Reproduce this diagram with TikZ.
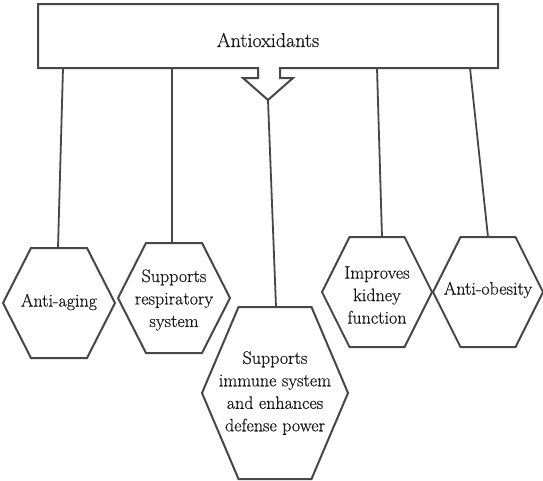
\documentclass[tikz,border=0pt]{standalone}
\usepackage{fontspec}
\setmainfont{Latin Modern Roman}[FakeBold=0.5]
\usepackage{tikz}
\tikzset{
  outline/.style={draw=black!72, line width=2pt, line join=miter},
  conn/.style={draw=black!72, line width=1.8pt},
  hextext/.style={align=center, text=black!90, inner sep=0pt, font=\fontsize{18}{22.5}\selectfont},
  titletext/.style={text=black!90, inner sep=0pt, font=\fontsize{20}{24}\selectfont}
}
\newcommand{\hexshape}[4]{%
  \draw[outline] ({#1-#3},#2) -- ({#1-#3/2},{#2-#4}) -- ({#1+#3/2},{#2-#4}) -- ({#1+#3},#2)
     -- ({#1+#3/2},{#2+#4}) -- ({#1-#3/2},{#2+#4}) -- cycle;}
\begin{document}
\begin{tikzpicture}[x=1pt,y=-1pt]
\fill[white] (0,0) rectangle (543,480);
\useasboundingbox (0,0) rectangle (543,480);
% title box with notch arrow
\draw[outline] (38,4) -- (498,4) -- (498,68) -- (280,68) -- (280,78) -- (293,78)
   -- (268,100) -- (243,78) -- (258,78) -- (258,68) -- (38,68) -- cycle;
\node[titletext] (title) at (268,40) {Antioxidants};
% hexagons
\hexshape{59}{303}{56}{55}
\hexshape{174}{298}{56}{55}
\hexshape{275}{393}{73}{86}
\hexshape{377}{292}{55}{55}
\hexshape{488}{292}{55}{55}
\node[hextext] (h1) at (59,302) {Anti-aging};
\node[hextext] (h2) at (174,300) {Supports\\respiratory\\system};
\node[hextext] (h3) at (275,393) {Supports\\immune system\\and enhances\\defense power};
\node[hextext] (h4) at (377,295) {Improves\\kidney\\function};
\node[hextext] (h5) at (488,290) {Anti-obesity};
% connector ends
\coordinate (s1) at (63,68);  \coordinate (e1) at (58,248);
\coordinate (s2) at (172,68); \coordinate (e2) at (172,243);
\coordinate (s3) at (268,100); \coordinate (e3) at (276,307);
\coordinate (s4) at (377,68); \coordinate (e4) at (382,237);
\coordinate (s5) at (470,68); \coordinate (e5) at (488,237);
\draw[conn] (s1) -- (e1);
\draw[conn] (s2) -- (e2);
\draw[conn] (s3) -- (e3);
\draw[conn] (s4) -- (e4);
\draw[conn] (s5) -- (e5);
\end{tikzpicture}
\end{document}
